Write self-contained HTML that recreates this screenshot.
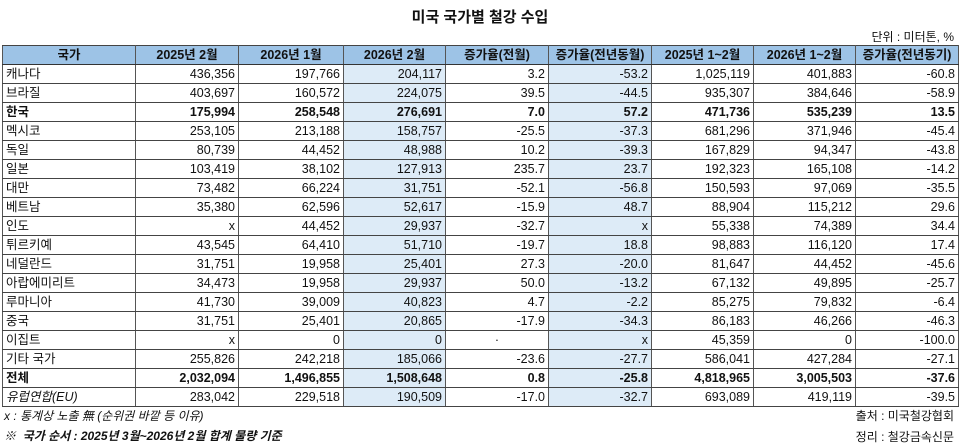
<!DOCTYPE html>
<html><head><meta charset="utf-8"><style>
body{margin:0;width:960px;height:445px;background:#fff;font-family:"Liberation Sans","Noto Sans CJK KR",sans-serif;color:#111;position:relative;overflow:hidden}
.t{position:absolute;left:0;width:960px;top:6px;text-align:center;font-size:15px;font-weight:bold}
.u{position:absolute;right:6px;top:28px;font-size:12px}
table{position:absolute;left:2px;top:45px;border-collapse:collapse;table-layout:fixed;font-size:12.5px}
td,th{height:18px;padding:0 3px;border:1px solid #555;border-top:1px solid #444;border-bottom:1px solid #444;white-space:nowrap;overflow:hidden;line-height:18px}
th{background:#9dc3e6;font-weight:bold;text-align:center;border-bottom:1.5px solid #333}
td{text-align:right}
td:first-child{text-align:left}
td:nth-child(4),td:nth-child(6){background:#ddebf7}
tr.b td{font-weight:bold}
tr.i td:first-child{font-style:italic}
.f{position:absolute;font-size:12px}
</style></head><body>
<div class="t">미국 국가별 철강 수입</div>
<div class="u">단위 : 미터톤, %</div>
<table>
<colgroup><col style="width:133px"><col style="width:103px"><col style="width:105px"><col style="width:102px"><col style="width:103px"><col style="width:103px"><col style="width:102px"><col style="width:102px"><col style="width:103px"></colgroup>
<tr><th>국가</th><th>2025년 2월</th><th>2026년 1월</th><th>2026년 2월</th><th>증가율(전월)</th><th>증가율(전년동월)</th><th>2025년 1~2월</th><th>2026년 1~2월</th><th>증가율(전년동기)</th></tr>
<tr><td>캐나다</td><td>436,356</td><td>197,766</td><td>204,117</td><td>3.2</td><td>-53.2</td><td>1,025,119</td><td>401,883</td><td>-60.8</td></tr>
<tr><td>브라질</td><td>403,697</td><td>160,572</td><td>224,075</td><td>39.5</td><td>-44.5</td><td>935,307</td><td>384,646</td><td>-58.9</td></tr>
<tr class="b"><td>한국</td><td>175,994</td><td>258,548</td><td>276,691</td><td>7.0</td><td>57.2</td><td>471,736</td><td>535,239</td><td>13.5</td></tr>
<tr><td>멕시코</td><td>253,105</td><td>213,188</td><td>158,757</td><td>-25.5</td><td>-37.3</td><td>681,296</td><td>371,946</td><td>-45.4</td></tr>
<tr><td>독일</td><td>80,739</td><td>44,452</td><td>48,988</td><td>10.2</td><td>-39.3</td><td>167,829</td><td>94,347</td><td>-43.8</td></tr>
<tr><td>일본</td><td>103,419</td><td>38,102</td><td>127,913</td><td>235.7</td><td>23.7</td><td>192,323</td><td>165,108</td><td>-14.2</td></tr>
<tr><td>대만</td><td>73,482</td><td>66,224</td><td>31,751</td><td>-52.1</td><td>-56.8</td><td>150,593</td><td>97,069</td><td>-35.5</td></tr>
<tr><td>베트남</td><td>35,380</td><td>62,596</td><td>52,617</td><td>-15.9</td><td>48.7</td><td>88,904</td><td>115,212</td><td>29.6</td></tr>
<tr><td>인도</td><td>x</td><td>44,452</td><td>29,937</td><td>-32.7</td><td>x</td><td>55,338</td><td>74,389</td><td>34.4</td></tr>
<tr><td>튀르키예</td><td>43,545</td><td>64,410</td><td>51,710</td><td>-19.7</td><td>18.8</td><td>98,883</td><td>116,120</td><td>17.4</td></tr>
<tr><td>네덜란드</td><td>31,751</td><td>19,958</td><td>25,401</td><td>27.3</td><td>-20.0</td><td>81,647</td><td>44,452</td><td>-45.6</td></tr>
<tr><td>아랍에미리트</td><td>34,473</td><td>19,958</td><td>29,937</td><td>50.0</td><td>-13.2</td><td>67,132</td><td>49,895</td><td>-25.7</td></tr>
<tr><td>루마니아</td><td>41,730</td><td>39,009</td><td>40,823</td><td>4.7</td><td>-2.2</td><td>85,275</td><td>79,832</td><td>-6.4</td></tr>
<tr><td>중국</td><td>31,751</td><td>25,401</td><td>20,865</td><td>-17.9</td><td>-34.3</td><td>86,183</td><td>46,266</td><td>-46.3</td></tr>
<tr><td>이집트</td><td>x</td><td>0</td><td>0</td><td style="text-align:center">·</td><td>x</td><td>45,359</td><td>0</td><td>-100.0</td></tr>
<tr><td>기타 국가</td><td>255,826</td><td>242,218</td><td>185,066</td><td>-23.6</td><td>-27.7</td><td>586,041</td><td>427,284</td><td>-27.1</td></tr>
<tr class="b"><td>전체</td><td>2,032,094</td><td>1,496,855</td><td>1,508,648</td><td>0.8</td><td>-25.8</td><td>4,818,965</td><td>3,005,503</td><td>-37.6</td></tr>
<tr class="i"><td>유럽연합(EU)</td><td>283,042</td><td>229,518</td><td>190,509</td><td>-17.0</td><td>-32.7</td><td>693,089</td><td>419,119</td><td>-39.5</td></tr>
</table>
<div class="f" style="left:4px;top:407px;font-style:italic">x : 통계상 노출 無 (순위권 바깥 등 이유)</div>
<div class="f" style="left:4px;top:427px;font-style:italic;font-weight:bold">※&nbsp; 국가 순서 : 2025년 3월~2026년 2월 합계 물량 기준</div>
<div class="f" style="right:6px;top:407px">출처 : 미국철강협회</div>
<div class="f" style="right:6px;top:428px">정리 : 철강금속신문</div>
</body></html>
